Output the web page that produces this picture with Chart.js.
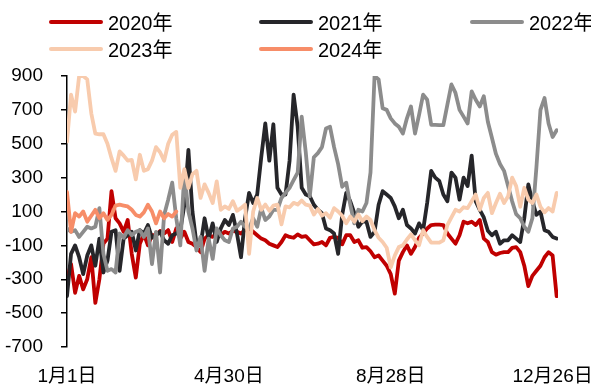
<!DOCTYPE html>
<html>
<head>
<meta charset="utf-8">
<script src="https://cdn.jsdelivr.net/npm/chart.js@4/dist/chart.umd.min.js"></script>
<style>
  html, body { margin: 0; padding: 0; background: #fff; }
  #wrap { position: relative; width: 591px; height: 392px; }
  #legend {
    position: absolute; left: 49px; top: 8px;
    display: grid; grid-template-columns: 210px 211px auto; grid-auto-rows: 27px;
    font: 20px "Liberation Sans", "Noto Sans CJK SC", sans-serif; color: #000;
  }
  .item { display: flex; align-items: center; white-space: nowrap; }
  .swatch { width: 54px; height: 4px; border-radius: 2px; margin-right: 5px; }
</style>
</head>
<body>
<div id="wrap">
  <canvas id="c" width="591" height="392"></canvas>
  <div id="legend"></div>
</div>
<script>
// Daily spread by year, sampled every 3 days from 1 Jan
const dayStep = 3;

const tickDays = [0, 120, 240, 360];
const tickLabels = ['1月1日', '4月30日', '8月28日', '12月26日'];

const seriesNames = ['2020年', '2021年', '2022年', '2023年', '2024年'];

const values2020 = [
  -300, -210, -380, -280, -360, -300, -170, -440, -300, -90,
  -60, 220, 60, 30, -20, 50, -150, -290, -90, -35,
  -100, -40, -40, -15, -30, -10, -80, 0, -60, -20,
  -80, -90, -110, -140, -60, -40, -50, -30, -40, -20,
  -30, -15, -20, -30, -10, 0, -20, -40, -60, -70,
  -90, -100, -110, -80, -40, -50, -55, -35, -50, -45,
  -70, -94, -90, -80, -100, -55, -50, -55, -94, -40,
  -40, -80, -70, -114, -110, -135, -170, -160, -190, -220,
  -270, -385, -190, -140, -100, -150, -110, -55, -30, 0,
  20, 22, 22, 20, -30, -60, -90, -40, 40, 30,
  40, 20, 50, -60, -80, -140, -155, -145, -140, -140,
  -115, -110, -140, -220, -340, -280, -250, -220, -170, -140,
  -160, -400
];

const values2021 = [
  -400, -150, -100, -170, -270, -160, -100, -220, -60, -260,
  -190, -20, -10, -250, -60, -40, -20, -130, -10, -30,
  20, -55, -40, -20, -70, -90, -40, -30, -10, 140,
  464, 100, -90, -100, 60, -60, 30, -80, 0, 50,
  20, 80, -30, -170, 60, 210, 150, 200, 420, 620,
  400, 615, 240, 200, 200, 400, 790, 600, 240, 200,
  190, 140, 110, 90, 0, -10, -30, -150, 80, 210,
  160, 90, 10, 40, 40, -50, -20, 140, 220, 200,
  180, 130, 60, 110, 20, 0, -30, 30, -10, 150,
  340, 300, 280, 200, 160, 330, 300, 170, 300, 250,
  430, 160, 110, 65, -14, -40, -20, -90, -70, -70,
  -40, -60, -80, 60, 260, 160, 80, 100, -10, -20,
  -50, -60
];

const values2022 = [
  0, -20, -10, -50, -20, 10, 0, 10, 120, -150,
  -250, -240, -260, -30, -55, -10, -40, -20, -10, -50,
  0, -210, -20, -260, 80, 170, 270, 60, -100, 330,
  100, 0, -130, -50, -250, -60, -180, 0, -40, -70,
  -80, 0, 10, 40, 10, 0, 60, 10, 120, 50,
  70, 110, 110, 180, 210, 240, 285, 330, 660, 450,
  190, 420, 445, 480, 590, 600, 480, 380, 246, 270,
  140, 30, 110, 100, 150, 330, 900, 880, 710, 700,
  650, 620, 600, 560, 650, 720, 560, 670, 790, 760,
  612, 612, 610, 610, 731, 850, 800, 700, 660, 620,
  809, 760, 720, 780, 630, 535, 440, 380, 340, 250,
  160, 84, 60, 10, -20, 60, 360, 700, 770, 620,
  540, 580
];

const values2023 = [
  513, 790, 690, 900, 900, 880, 680, 560, 556, 556,
  500, 415, 340, 455, 430, 400, 405, 290, 435, 340,
  350, 400, 480, 450, 400, 500, 553, 570, 239, 350,
  239, 320, 340, 180, 260, 210, 150, 278, 110, 130,
  115, 161, 104, 120, 141, -150, 100, 180, 110, 141,
  104, 135, 140, 24, 130, 125, 151, 141, 165, 140,
  135, 82, 115, 75, 90, 63, 120, 100, 75, 30,
  70, 40, 82, 43, 70, 50, -10, -55, -80, -114,
  -230, -160, -110, -100, -65, -35, -70, -100, -10, -50,
  -84, -84, -84, -70, 20, 65, 110, 100, 125, 120,
  160, 200, 110, 180, 210, 90, 150, 205, 150, 190,
  300, 250, 128, 240, 170, 150, 200, 128, 95, 120,
  100, 210
];

const values2024 = [
  215, -20, 90, 70, 100, 40, 75, 110, 60, 90,
  50, 80, 135, 140, 135, 130, 110, 80, 70, 95,
  140, 100, 30, 100, 60, 85, 70, 100
];

const seriesValues = [values2020, values2021, values2022, values2023, values2024];
const seriesColors = ['#C00000', '#26262A', '#8C8C8C', '#F8CBAD', '#F78D68'];

const fontFamily = '"Liberation Sans", "Noto Sans CJK SC", sans-serif';

const datasets = seriesNames.map((name, k) => ({
  label: name,
  data: seriesValues[k].map((v, i) => ({ x: i * dayStep, y: v })),
  borderColor: seriesColors[k],
  backgroundColor: seriesColors[k],
  borderWidth: 3.8,
  pointRadius: 0,
  pointHoverRadius: 0,
  tension: 0,
  borderJoinStyle: 'round',
  borderCapStyle: 'round',
  fill: false,
  order: seriesNames.length - k   // later years drawn on top
}));

const chart = new Chart(document.getElementById('c'), {
  type: 'line',
  data: { datasets },
  options: {
    responsive: false,
    animation: false,
    layout: { padding: { top: 76, right: 33, left: 0, bottom: 0 } },
    plugins: { legend: { display: false }, tooltip: { enabled: false } },
    scales: {
      x: {
        type: 'linear',
        min: 0,
        max: 364,
        grid: { display: false, drawTicks: false },
        border: { display: false },
        afterBuildTicks: s => { s.ticks = tickDays.map(v => ({ value: v })); },
        afterFit: s => { s.height = 45; s.paddingLeft = 0; s.paddingRight = 0; },
        ticks: {
          autoSkip: false,
          maxRotation: 0,
          padding: 18,
          color: '#000',
          font: { family: fontFamily, size: 19 },
          callback: (v, i) => tickLabels[i]
        }
      },
      y: {
        min: -700,
        max: 900,
        grid: {
          color: c => (c.tick && c.tick.value === 0 ? '#000' : 'rgba(0,0,0,0)'),
          lineWidth: 1.5,
          tickColor: '#000',
          tickLength: 6,
          tickWidth: 1.5
        },
        border: { color: '#000', width: 1.5 },
        afterFit: s => { s.width = 67; },
        ticks: {
          stepSize: 200,
          padding: 18,
          color: '#000',
          font: { family: fontFamily, size: 19 }
        }
      }
    }
  }
});

// Legend in three columns, built from the chart's datasets
const legendEl = document.getElementById('legend');
chart.data.datasets.forEach(ds => {
  const item = document.createElement('div');
  item.className = 'item';
  const sw = document.createElement('span');
  sw.className = 'swatch';
  sw.style.background = ds.borderColor;
  const tx = document.createElement('span');
  tx.textContent = ds.label;
  item.appendChild(sw);
  item.appendChild(tx);
  legendEl.appendChild(item);
});
</script>
</body>
</html>
